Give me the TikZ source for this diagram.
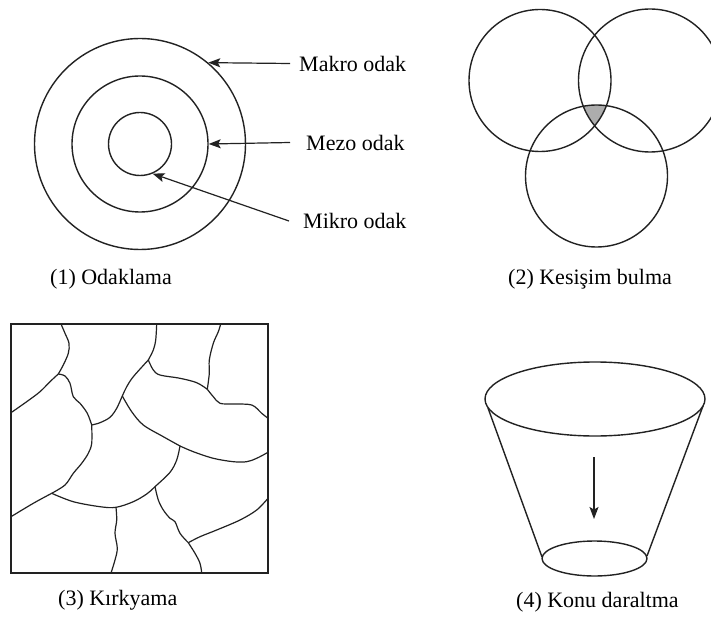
\documentclass[tikz,border=0pt]{standalone}
\usepackage{fontspec}
\setmainfont{Liberation Serif}
\usetikzlibrary{arrows.meta,calc}
\definecolor{ink}{HTML}{222222}
\begin{document}
\begin{tikzpicture}[x=1pt,y=-1pt,
  ring/.style={circle, draw=ink, line width=1.4pt, inner sep=0pt},
  lbl/.style={font=\fontsize{22}{26}\selectfont, inner sep=0pt, text=black},
  arr/.style={line width=1.2pt, draw=ink, -{Stealth[length=12pt,width=9pt,inset=2.5pt]}},
  outl/.style={line width=1.4pt, draw=ink},
  crack/.style={line width=1.2pt, draw=ink}]
\useasboundingbox (0,0) rectangle (711,617);
\clip (0,0) rectangle (711,617);
\fill[white] (0,0) rectangle (711,617);

% (1) Odaklama
\node[ring, minimum size=211pt] (outer) at (140,144) {};
\node[ring, minimum size=136pt] (middle) at (140,144) {};
\node[ring, minimum size=63pt] (inner) at (140,144) {};
\node[lbl, anchor=west] (makro) at (299,63.5) {Makro odak};
\node[lbl, anchor=west] (mezo) at (306,142.5) {Mezo odak};
\node[lbl, anchor=west] (mikro) at (303,221) {Mikro odak};
\draw[arr] ([xshift=-9pt]makro.west) -- (outer.50);
\draw[arr] ([xshift=-16pt]mezo.west) -- (middle.0);
\draw[arr] ([xshift=-14pt]mikro.west) -- (inner.-67);
\node[lbl, anchor=base west] (cap1) at (50,284) {(1) Odaklama};

% (2) Kesisim bulma
\begin{scope}
  \clip (540,80.5) circle (71);
  \clip (650,80.5) circle (71.5);
  \fill[black!32] (596.5,176) circle (71);
\end{scope}
\node[ring, minimum size=142pt] (vA) at (540,80.5) {};
\node[ring, minimum size=143pt] (vB) at (650,80.5) {};
\node[ring, minimum size=142pt] (vC) at (596.5,176) {};
\node[lbl, anchor=base west] (cap2) at (508,284) {(2) Kesişim bulma};

% (3) Kirkyama
\draw[outl] (11,324) rectangle (268,573);
\begin{scope}[crack]
\draw plot[smooth, tension=0.55] coordinates {(61,324) (65,333.3) (69,343.3) (68.3,353.3) (63.3,365) (58.3,374)};
\draw plot[smooth, tension=0.55] coordinates {(58.3,374) (50,381.7) (40,391.7) (26.7,401.7) (11,412.7)};
\draw plot[smooth, tension=0.55] coordinates {(58.3,374) (65,376) (70,383.3) (73.3,396.7) (80,403.3) (87.3,413.3) (91.7,425)};
\draw plot[smooth, tension=0.55] coordinates {(91.7,425) (100,422.7) (110,417.3) (116.7,408.3) (122.3,396) (126.7,386.7) (133.3,376.7) (148.3,360)};
\draw plot[smooth, tension=0.55] coordinates {(148.3,360) (153.3,350) (155.7,340) (156.7,324)};
\draw plot[smooth, tension=0.55] coordinates {(91.7,425) (91.7,443.3) (88.3,453.3) (81.7,463.3) (73.3,473.3) (65,485) (51.7,493.3)};
\draw plot[smooth, tension=0.55] coordinates {(51.7,493.3) (33.3,503.3) (11,516.7)};
\draw plot[smooth, tension=0.55] coordinates {(51.7,493.3) (73.3,501.7) (100,506.7) (116,507.3) (133.3,501.7) (146.7,494) (155,486.7) (170,472.3) (176.7,460) (180,446)};
\draw plot[smooth, tension=0.55] coordinates {(122.3,396) (131.7,411.7) (143.3,425) (163.3,436.7) (180,446)};
\draw plot[smooth, tension=0.55] coordinates {(180,446) (193.3,451.7) (213.3,458.3) (233.3,461.7) (246.7,461.7) (256.7,458.3) (268,452.3)};
\draw plot[smooth, tension=0.55] coordinates {(116,507.3) (116.7,520) (115,533.3) (117.3,548.3) (115,560) (111,573)};
\draw plot[smooth, tension=0.55] coordinates {(155,486.7) (158.3,500) (163.3,510) (170,518.3) (175,521.7) (180,533.3) (188.3,542.7)};
\draw plot[smooth, tension=0.55] coordinates {(188.3,542.7) (200,536.7) (216.7,530) (240,520) (256.7,510) (268,498.3)};
\draw plot[smooth, tension=0.55] coordinates {(188.3,542.7) (195,553.3) (200,563.3) (201.7,573)};
\draw plot[smooth, tension=0.55] coordinates {(148.3,360) (153.3,370) (160,375) (180,378.3) (196.7,382.7) (207.3,389.3)};
\draw plot[smooth, tension=0.55] coordinates {(207.3,389.3) (209.3,373.3) (209.3,360) (213.3,343.3) (218.3,331.7) (220.7,324)};
\draw plot[smooth, tension=0.55] coordinates {(207.3,389.3) (213.3,396.7) (220,403.3) (233.3,404) (251.7,405) (261.7,413.3) (268,418.3)};
\end{scope}
\node[lbl, anchor=base west] (cap3) at (58,605) {(3) Kırkyama};

% (4) Konu daraltma
\draw[outl] (595,399) ellipse [x radius=110, y radius=37];
\draw[outl] (594.5,558.5) ellipse [x radius=52.5, y radius=17.5];
\draw[outl] (488,408) -- (542,557);
\draw[outl] (703,406) -- (647,556);
\coordinate (downS) at (594,457);
\coordinate (downE) at (594,519);
\draw[arr] (downS) -- (downE);
\node[lbl, anchor=base west] (cap4) at (516,607) {(4) Konu daraltma};
\end{tikzpicture}
\end{document}
